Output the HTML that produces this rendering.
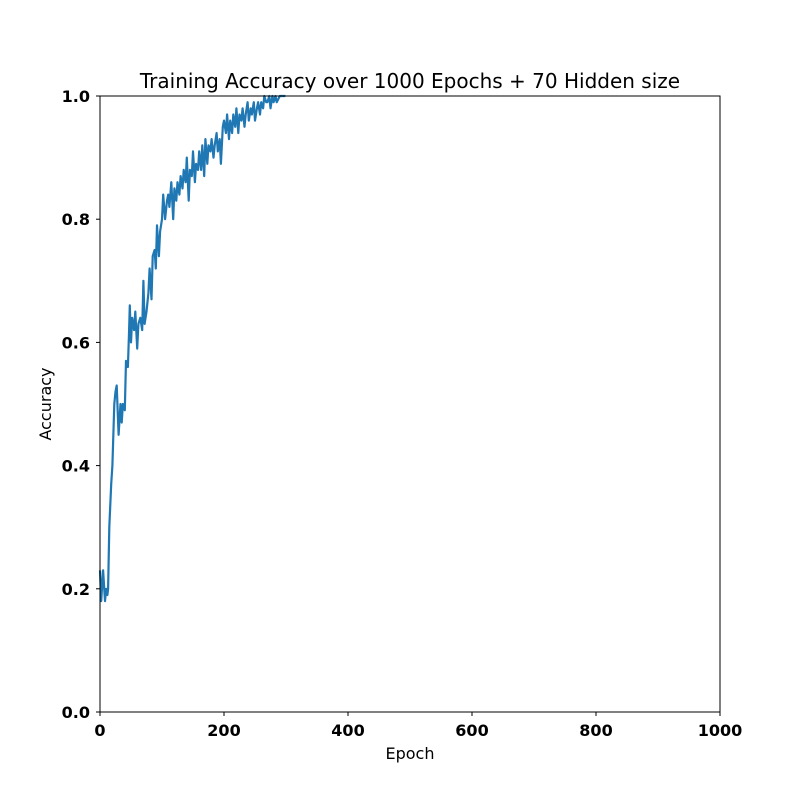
<!DOCTYPE html>
<html><head><meta charset="utf-8"><style>
html,body{margin:0;padding:0;background:#fff;}
svg{display:block;font-family:"DejaVu Sans","Liberation Sans",sans-serif;}
</style></head><body>
<svg id="chart" width="800" height="800" viewBox="0 0 800 800">
<rect width="800" height="800" fill="#fff"/>
<text x="410" y="88" font-size="20" text-anchor="middle">Training Accuracy over 1000 Epochs + 70 Hidden size</text>
<g id="ticks"></g>
<path id="line" fill="none" stroke="#1f77b4" stroke-width="2.2" stroke-linejoin="round"/>
<rect x="100" y="96" width="620" height="616" fill="none" stroke="#000" stroke-width="1"/>
<text x="410" y="759" font-size="16" text-anchor="middle">Epoch</text>
<text x="51" y="404" font-size="16" text-anchor="middle" transform="rotate(-90 51 404)">Accuracy</text>
</svg>
<script>
const epochs=[0,2,5,8,10,12,13,15,18,20,23,25,27,30,33,35,37,40,42,45,47,48,50,52,55,57,60,62,65,68,70,72,75,78,80,83,85,88,90,92,95,97,100,102,105,108,110,112,115,118,120,123,125,128,130,133,135,138,140,143,145,148,150,153,155,158,160,163,165,168,170,173,175,178,180,183,185,188,190,193,195,198,200,203,205,208,210,213,215,218,220,223,225,228,230,233,235,238,240,243,245,248,250,253,255,258,260,263,265,268,270,273,275,278,280,283,285,290,295,299];
const accuracy=[0.23,0.18,0.23,0.18,0.20,0.19,0.20,0.30,0.37,0.40,0.50,0.52,0.53,0.45,0.50,0.47,0.50,0.49,0.57,0.56,0.62,0.66,0.60,0.64,0.62,0.65,0.59,0.63,0.64,0.62,0.70,0.63,0.65,0.68,0.72,0.67,0.74,0.75,0.72,0.79,0.74,0.78,0.80,0.84,0.80,0.83,0.84,0.82,0.86,0.80,0.85,0.83,0.86,0.84,0.87,0.85,0.88,0.86,0.90,0.83,0.88,0.87,0.91,0.86,0.89,0.88,0.91,0.88,0.92,0.87,0.93,0.89,0.92,0.91,0.93,0.90,0.92,0.94,0.91,0.93,0.89,0.95,0.96,0.94,0.97,0.93,0.96,0.94,0.97,0.95,0.98,0.94,0.97,0.96,0.98,0.95,0.97,0.99,0.96,0.98,0.97,0.99,0.96,0.98,0.99,0.97,0.99,0.98,1.0,0.99,0.99,1.0,0.98,1.0,0.99,1.0,0.99,1.0,1.0,1.0];
const xTicks=[0,200,400,600,800,1000];
const yTicks=[0.0,0.2,0.4,0.6,0.8,1.0];
const X=v=>100+v/1000*620, Y=v=>712-v*616;
const NS="http://www.w3.org/2000/svg";
const g=document.getElementById('ticks');
xTicks.forEach(t=>{
  const l=document.createElementNS(NS,'line');
  l.setAttribute('x1',X(t));l.setAttribute('x2',X(t));l.setAttribute('y1',712);l.setAttribute('y2',716);l.setAttribute('stroke','#000');
  
  
  g.appendChild(l);
  const s=document.createElementNS(NS,'text');
  s.setAttribute('x',X(t));s.setAttribute('y',736);s.setAttribute('font-size','16');s.setAttribute('font-weight','bold');s.setAttribute('text-anchor','middle');
  s.textContent=t;
  
  
  g.appendChild(s);
});
yTicks.forEach(t=>{
  const l=document.createElementNS(NS,'line');
  l.setAttribute('x1',96);l.setAttribute('x2',100);l.setAttribute('y1',Y(t));l.setAttribute('y2',Y(t));l.setAttribute('stroke','#000');
  
  
  g.appendChild(l);
  const s=document.createElementNS(NS,'text');
  s.setAttribute('x',90);s.setAttribute('y',Y(t)+6);s.setAttribute('font-size','16');s.setAttribute('font-weight','bold');s.setAttribute('text-anchor','end');
  s.textContent=t.toFixed(1);
  
  
  g.appendChild(s);
});
document.getElementById('line').setAttribute('d',epochs.map((e,i)=>(i?'L':'M')+X(e).toFixed(1)+','+Y(accuracy[i]).toFixed(1)).join(''));
</script>
</body></html>
